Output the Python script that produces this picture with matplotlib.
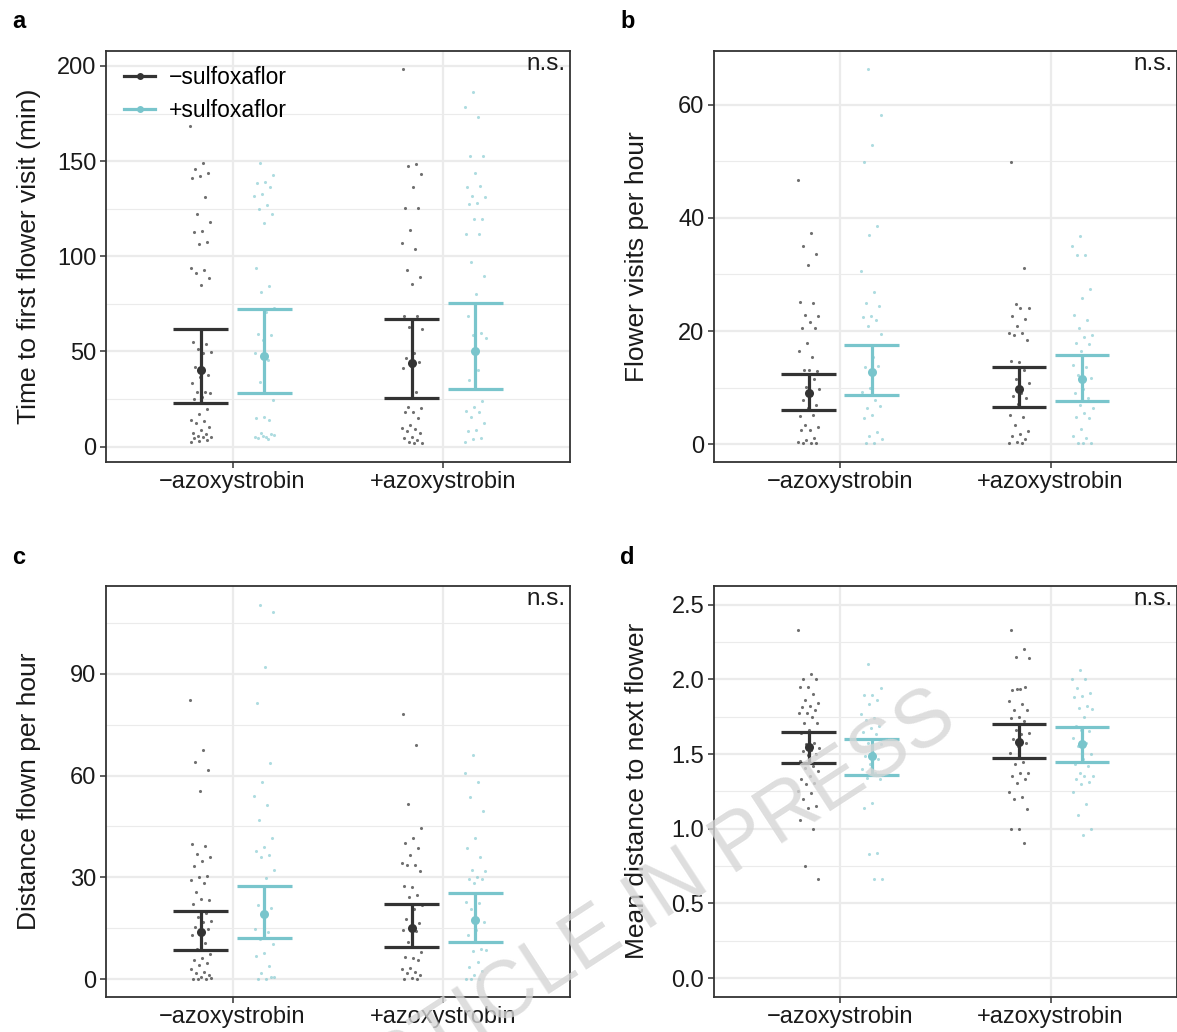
import numpy as np
import matplotlib
matplotlib.use("Agg")
import matplotlib.pyplot as plt
from matplotlib.lines import Line2D

plt.rcParams['font.family'] = ['Liberation Sans', 'DejaVu Sans']

groups = ["\u2212azoxystrobin", "+azoxystrobin"]
series = ["\u2212sulfoxaflor", "+sulfoxaflor"]
colors = ["#333333", "#79C5CC"]

# ---- panel a: time to first flower visit (min)
a_mm = [168.6, 148.9, 145.9, 143.6, 142.2, 141, 131.3, 122, 117.9, 113.5, 112.6, 107.4, 106.5,
        94, 92.8, 91.4, 88.4, 84.8, 55.2, 53.9, 51.1, 49.9, 49.4, 42, 37.7, 36.8, 33.3, 28.9,
        28.9, 28.4, 26.3, 24.9, 19.6, 17.2, 14, 13.7, 12.3, 10.5, 8.8, 7.4, 6.7, 5.6, 5.3, 4.9,
        4.4, 3.5, 3.0, 2.6]
a_mp = [149.2, 142.7, 139.2, 138.4, 136.6, 132.7, 131.7, 127, 124.9, 122, 117.3, 94, 84.6,
        81.4, 73, 70.9, 59.2, 58.7, 56, 49, 45.5, 33.8, 24.5, 15.8, 14.9, 14, 7, 6.1, 5.3, 4.4,
        6.5, 5.6, 4.9, 4.0]
a_pm = [198.4, 148.5, 147.5, 143.3, 136.3, 125.2, 125.6, 113.7, 107.2, 104, 92.8, 89.3, 85.5,
        68.7, 68.7, 62.7, 61.6, 49, 46.4, 44.7, 42.4, 41.2, 28.9, 21, 20.1, 18.4, 18.4, 14.9,
        11.4, 9.6, 9.1, 8.4, 7, 5.3, 4.4, 3.5, 2.6, 1.8, 2.1]
a_pp = [186.5, 178.6, 173, 152.5, 152.5, 144, 136.6, 137, 131.7, 131, 128.2, 127.5, 119.4,
        119.6, 111.7, 111.7, 97.2, 89.7, 80, 68.7, 59.5, 58.7, 56.9, 40.3, 35, 24.2, 21, 18.9,
        18, 15.8, 12.3, 8.8, 8.4, 4.7, 4, 2.3]
a_mean = [[40.1, 43.8], [47.6, 50.3]]
a_low = [[23.1, 25.8], [28.0, 30.3]]
a_high = [[61.7, 67.1], [72.2, 75.3]]

# ---- panel b: flower visits per hour
b_mm = [46.6, 37.4, 35.1, 33.6, 31.6, 25.1, 24.9, 22.8, 22.6, 21.6, 20.6, 20.6, 17.9, 16.4,
        15.5, 13.2, 13, 13.1, 12.4, 11.6, 10.2, 9.7, 8.7, 7.8, 6.9, 6.4, 5, 5.2, 3.4, 3.1, 2.6,
        2.6, 1.1, 0.8, 0.5, 0.3, 0.3, 0.3]
b_mp = [66.2, 58.2, 52.9, 49.8, 38.6, 36.9, 30.6, 26.9, 24.9, 24.5, 22.6, 22.4, 21.9, 20.9,
        19.4, 15.5, 13.6, 13.8, 9.9, 9.3, 7.9, 6.4, 6.8, 5.2, 4.6, 2.2, 1.4, 0.9, 0.3, 0.3]
b_pm = [49.8, 31.2, 24.7, 24, 24, 22.6, 22.2, 20.9, 19.6, 19.7, 19.3, 18.4, 14.6, 14.8, 13.1,
        11.5, 10.8, 9, 8.5, 8.1, 7.1, 5.2, 4.8, 3.5, 2.4, 1.9, 1.4, 0.9, 0.5, 0.3, 0.2]
b_pp = [36.8, 35.1, 33.4, 33.4, 27.4, 25.9, 22.8, 21.9, 20.6, 19.3, 19, 17.9, 17.8, 16.4, 14,
        13.6, 12.2, 11.8, 9.7, 9.1, 8.1, 6.9, 6.4, 5.6, 4.8, 4.6, 2.8, 1.5, 1.1, 0.3, 0.3, 0.3]
b_mean = [[9.1, 9.8], [12.7, 11.5]]
b_low = [[6.1, 6.6], [8.8, 7.7]]
b_high = [[12.5, 13.6], [17.5, 15.8]]

# ---- panel c: distance flown per hour
c_mm = [82.3, 67.6, 63.9, 61.7, 55.5, 39.8, 39.2, 36.9, 35.9, 34.8, 33.4, 30.5, 30.2, 29.2,
        28.2, 25.8, 23.3, 23.5, 22, 19.4, 18.4, 17.2, 16.9, 15.4, 14.7, 13.5, 13, 10.5, 9, 7.4,
        6.1, 5.6, 4.6, 4.1, 3.1, 2.2, 1.7, 1.2, 0.7, 0, 0, 0, 0.2]
c_mp = [110.3, 108.2, 91.9, 81.3, 63.8, 58.2, 54.1, 51.3, 46.9, 41.7, 39, 37.9, 36.6, 35.9,
        32.2, 29.7, 21.8, 21.1, 19.2, 14.7, 13.9, 11.7, 10.3, 7.6, 6.8, 3.8, 1.9, 0.5, 0, 0, 0.7]
c_pm = [78.2, 69, 51.5, 44.4, 41.7, 40, 38.5, 36.6, 34.3, 33.6, 33.6, 32, 27.2, 27.4, 24.8,
        24.3, 21.8, 20.8, 17.7, 16.4, 15.4, 14.5, 14.3, 11, 8.1, 6.1, 6.6, 5.6, 3.4, 2.9, 2.2,
        1.9, 1.2, 0.2, 0, 0]
c_pp = [66.1, 60.9, 58, 53.8, 49.6, 41.7, 38.7, 36.1, 32.2, 32, 30.2, 29.4, 29.4, 28.2, 22.8,
        22.5, 20.8, 16.9, 14.5, 13, 9, 8.4, 8.6, 5.1, 3.6, 2.5, 1.2, 0, 0, 0]
c_mean = [[13.9, 15.1], [19.2, 17.4]]
c_low = [[8.6, 9.4], [12.2, 11.0]]
c_high = [[20.1, 22.2], [27.4, 25.3]]

# ---- panel d: mean distance to next flower
d_mm = [2.333, 2.039, 2.003, 2.003, 1.947, 1.947, 1.905, 1.86, 1.843, 1.82, 1.814, 1.794,
        1.776, 1.776, 1.749, 1.709, 1.705, 1.658, 1.638, 1.575, 1.569, 1.542, 1.526, 1.52,
        1.502, 1.491, 1.453, 1.419, 1.408, 1.386, 1.352, 1.33, 1.308, 1.297, 1.252, 1.241,
        1.197, 1.152, 1.141, 1.056, 1.0, 0.751, 0.666]
d_mp = [2.103, 1.939, 1.898, 1.894, 1.865, 1.838, 1.765, 1.742, 1.731, 1.687, 1.676, 1.647,
        1.631, 1.575, 1.564, 1.508, 1.486, 1.464, 1.43, 1.397, 1.375, 1.341, 1.33, 1.174,
        1.136, 0.84, 0.829, 0.666, 0.666]
d_pm = [2.333, 2.204, 2.15, 2.143, 1.936, 1.927, 1.95, 1.932, 1.854, 1.838, 1.798, 1.794,
        1.749, 1.742, 1.72, 1.664, 1.638, 1.631, 1.598, 1.575, 1.553, 1.504, 1.446, 1.435,
        1.375, 1.37, 1.352, 1.335, 1.308, 1.248, 1.214, 1.197, 1.13, 1.0, 1.0, 0.907]
d_pp = [2.061, 1.999, 1.999, 1.943, 1.91, 1.887, 1.881, 1.82, 1.809, 1.803, 1.749, 1.687,
        1.653, 1.664, 1.609, 1.575, 1.553, 1.497, 1.468, 1.43, 1.419, 1.375, 1.352, 1.352,
        1.335, 1.312, 1.301, 1.248, 1.168, 1.09, 1.0, 0.956]
d_mean = [[1.546, 1.582], [1.486, 1.564]]
d_low = [[1.439, 1.473], [1.361, 1.446]]
d_high = [[1.649, 1.698], [1.598, 1.684]]

panels = [
    ("a", "Time to first flower visit (min)", [[a_mm, a_pm], [a_mp, a_pp]], a_mean, a_low, a_high,
     (-7.9, 208.0), [0, 50, 100, 150, 200], 25),
    ("b", "Flower visits per hour", [[b_mm, b_pm], [b_mp, b_pp]], b_mean, b_low, b_high,
     (-3.06, 69.5), [0, 20, 40, 60], 10),
    ("c", "Distance flown per hour", [[c_mm, c_pm], [c_mp, c_pp]], c_mean, c_low, c_high,
     (-5.2, 115.9), [0, 30, 60, 90], 15),
    ("d", "Mean distance to next flower", [[d_mm, d_pm], [d_mp, d_pp]], d_mean, d_low, d_high,
     (-0.125, 2.625), [0.0, 0.5, 1.0, 1.5, 2.0, 2.5], 0.25),
]

W, H = 1177, 1032
fig = plt.figure(figsize=(W / 100, H / 100), dpi=100)
boxes = [(106, 50.7, 570, 461.7), (714, 50.7, 1176.7, 461.7),
         (106, 586, 570, 996.7), (714, 586, 1176.7, 996.7)]
letter_pos = [(12, 21), (620, 21), (12, 557), (620, 557)]

dodge = 0.15
cap = 0.13
jit = 0.05

for k, (letter, ylab, pts, mean, low, high, ylim, yticks, minor) in enumerate(panels):
    x0, y0, x1, y1 = boxes[k]
    ax = fig.add_axes([x0 / W, 1 - y1 / H, (x1 - x0) / W, (y1 - y0) / H])
    ax.set_xlim(0.4, 2.6)
    ax.set_ylim(*ylim)

    # grid (ggplot theme_bw look)
    mn = np.arange(yticks[0] + minor, ylim[1], minor * 2)
    for m in mn:
        ax.axhline(m, color="#EBEBEB", lw=0.8, zorder=0)
    for t in yticks:
        ax.axhline(t, color="#EBEBEB", lw=1.6, zorder=0)
    for g in (1, 2):
        ax.axvline(g, color="#EBEBEB", lw=1.6, zorder=0)

    for s in range(2):
        for g in range(2):
            vals = np.array(pts[s][g])
            n = len(vals)
            off = ((np.arange(n) * 0.618034 + 0.3 * s + 0.1 * g) % 1 - 0.5) * 2 * jit
            xc = g + 1 + (dodge if s else -dodge)
            ax.scatter(xc + off, vals, s=5, color=colors[s],
                       alpha=0.7 if s == 0 else 0.6, lw=0, zorder=2)
            ax.plot([xc, xc], [low[s][g], high[s][g]], color=colors[s], lw=2.3,
                    zorder=3, solid_capstyle="butt")
            for yv in (low[s][g], high[s][g]):
                ax.plot([xc - cap, xc + cap], [yv, yv], color=colors[s], lw=2.3,
                        zorder=3, solid_capstyle="butt")
            ax.plot(xc, mean[s][g], "o", color=colors[s], ms=6.5, zorder=4, mec="none")

    ax.set_xticks([1, 2])
    ax.set_xticklabels(groups, fontsize=17, color="#1A1A1A")
    ax.set_yticks(yticks)
    if k == 3:
        ax.set_yticklabels(["%.1f" % t for t in yticks])
    ax.tick_params(axis="y", labelsize=17, labelcolor="#1A1A1A")
    ax.tick_params(axis="both", length=4, width=1.1, color="#333333", pad=3)
    for sp in ax.spines.values():
        sp.set_color("#333333")
        sp.set_linewidth(1.3)
    ax.set_ylabel(ylab, fontsize=19, color="#1A1A1A")
    ax.yaxis.set_label_coords(-0.14, 0.5)

    ax.text(0.99, 0.995, "n.s.", transform=ax.transAxes, ha="right", va="top",
            fontsize=17.5, color="#1A1A1A")
    lx, ly = letter_pos[k]
    fig.text(lx / W, 1 - ly / H, letter, fontsize=17, fontweight="bold", va="center")

    if k == 0:
        handles = [Line2D([0], [0], color=colors[i], lw=2.3, marker="o", ms=5, mec="none")
                   for i in range(2)]
        ax.legend(handles, series, loc="upper left", bbox_to_anchor=(0.02, 0.985),
                  frameon=False, fontsize=16.5, handlelength=1.35, handletextpad=0.6,
                  labelspacing=0.45, borderaxespad=0)

# watermark, partly off the page as in the original
fig.text(640 / W, 1 - 910 / H, "ARTICLE IN PRESS", fontsize=58, color="#D6D6D6",
         alpha=0.8, rotation=33, ha="center", va="center", rotation_mode="anchor", zorder=10)

fig.savefig("out.png", dpi=100)
